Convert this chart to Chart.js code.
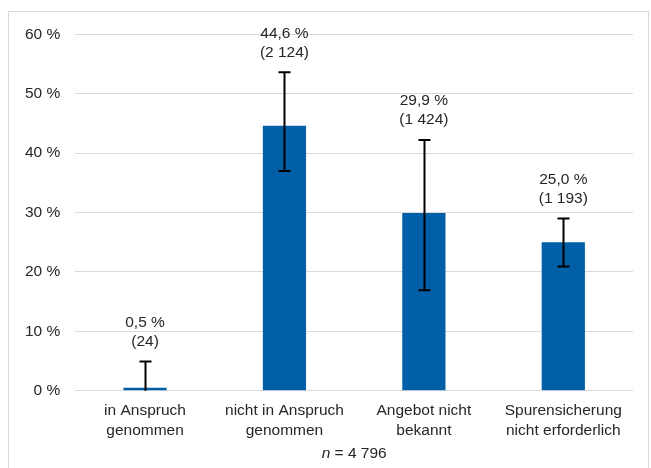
<!DOCTYPE html>
<html>
<head>
<meta charset="utf-8">
<script src="https://cdn.jsdelivr.net/npm/chart.js@4"></script>
<style>
  html, body { margin: 0; padding: 0; background: #fff; }
  body { width: 651px; height: 468px; position: relative; overflow: hidden; }
  #frame { position: absolute; left: 8px; top: 11px; width: 641px; height: 470px;
           border: 1px solid #d9d9d9; box-sizing: border-box; }
  #wrap { position: absolute; left: 9px; top: 10px; width: 638px; height: 458px; }
</style>
</head>
<body>
<div id="frame"></div>
<div id="wrap"><canvas id="c"></canvas></div>
<script>
const categories = [
  ['in Anspruch', 'genommen'],
  ['nicht in Anspruch', 'genommen'],
  ['Angebot nicht', 'bekannt'],
  ['Spurensicherung', 'nicht erforderlich']
];
const shares = [0.5, 44.6, 29.9, 25.0];
const counts = ['(24)', '(2 124)', '(1 424)', '(1 193)'];
const shareLabels = ['0,5 %', '44,6 %', '29,9 %', '25,0 %'];
const errLow = [-3.9, 37.0, 16.9, 20.9];
const errHigh = [4.9, 53.6, 42.2, 29.0];
const yTicks = [0, 10, 20, 30, 40, 50, 60];
const sampleNote = 'n = 4 796';

const FONT = '"Liberation Sans", Arial, sans-serif';
const FS = 15.5;
const TXT = '#262626';

const errorBars = {
  id: 'errorBars',
  afterDatasetsDraw(chart) {
    const { ctx, chartArea, scales: { x, y } } = chart;
    ctx.save();
    ctx.beginPath();
    ctx.rect(chartArea.left, chartArea.top - 60, chartArea.width, chartArea.height + 60);
    ctx.clip();
    ctx.strokeStyle = '#000';
    ctx.lineWidth = 2;
    const cap = 6;
    shares.forEach((v, i) => {
      const px = Math.round(x.getPixelForValue(i)) + 0.5;
      const yh = y.getPixelForValue(errHigh[i]);
      const yl = y.getPixelForValue(errLow[i]);
      ctx.beginPath();
      ctx.moveTo(px, yl); ctx.lineTo(px, yh);
      ctx.moveTo(px - cap, yh); ctx.lineTo(px + cap, yh);
      ctx.moveTo(px - cap, yl); ctx.lineTo(px + cap, yl);
      ctx.stroke();
    });
    ctx.restore();

    ctx.save();
    ctx.fillStyle = TXT;
    ctx.font = FS + 'px ' + FONT;
    ctx.textAlign = 'center';
    ctx.textBaseline = 'middle';
    shares.forEach((v, i) => {
      const px = x.getPixelForValue(i);
      const yh = y.getPixelForValue(errHigh[i]);
      ctx.fillText(counts[i], px, yh - 20);
      ctx.fillText(shareLabels[i], px, yh - 39);
    });
    // sample size note
    const nx = (chartArea.left + chartArea.right) / 2;
    const ny = chartArea.bottom + 63;
    ctx.textAlign = 'left';
    const nPart = sampleNote.slice(0, 1);
    const rest = sampleNote.slice(1);
    ctx.font = FS + 'px ' + FONT;
    const restW = ctx.measureText(rest).width;
    ctx.font = 'italic ' + FS + 'px ' + FONT;
    const nW = ctx.measureText(nPart).width;
    const startX = nx - (nW + restW) / 2;
    ctx.fillText(nPart, startX, ny);
    ctx.font = FS + 'px ' + FONT;
    ctx.fillText(rest, startX + nW, ny);
    ctx.restore();
  }
};

new Chart(document.getElementById('c'), {
  type: 'bar',
  data: {
    labels: categories,
    datasets: [{
      data: shares,
      backgroundColor: '#005fa6',
      borderWidth: 0,
      barPercentage: 0.62,
      categoryPercentage: 0.5
    }]
  },
  options: {
    responsive: true,
    maintainAspectRatio: false,
    animation: false,
    layout: { padding: { left: 1, right: 14, top: 8, bottom: 17 } },
    plugins: { legend: { display: false }, tooltip: { enabled: false } },
    scales: {
      x: {
        grid: { display: false, drawTicks: false },
        border: { display: false },
        ticks: { color: TXT, font: { family: FONT, size: FS, lineHeight: 1.3 }, padding: 10, maxRotation: 0, autoSkip: false }
      },
      y: {
        min: 0, max: 60,
        afterBuildTicks(axis) { axis.ticks = yTicks.map(v => ({ value: v })); },
        grid: { color: '#d9d9d9', lineWidth: 1, drawTicks: false },
        border: { display: false },
        ticks: { color: TXT, font: { family: FONT, size: FS }, padding: 15, callback: v => v + ' %' }
      }
    }
  },
  plugins: [errorBars]
});
</script>
</body>
</html>
